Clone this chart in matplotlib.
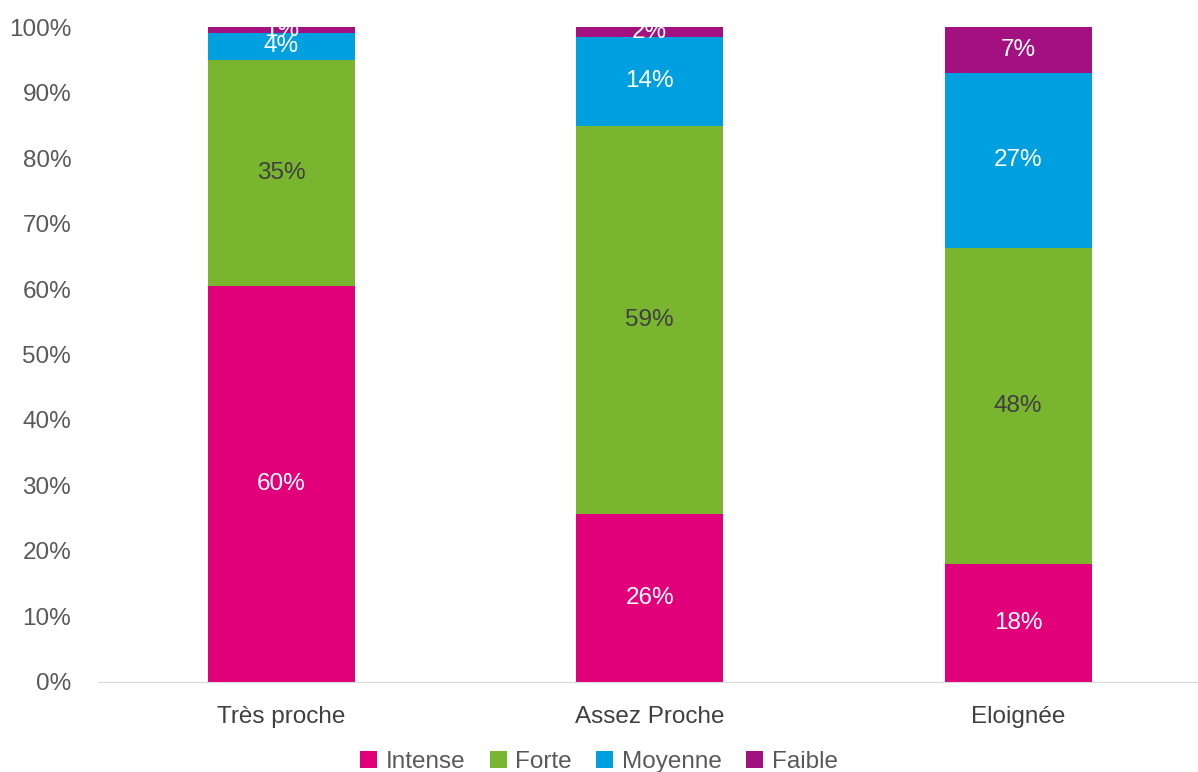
import numpy as np
import matplotlib.pyplot as plt
from matplotlib.ticker import PercentFormatter

plt.rcParams['font.family'] = ['Liberation Sans Narrow', 'Liberation Sans', 'DejaVu Sans']

categories = ["Très proche", "Assez Proche", "Eloignée"]
series_names = ["Intense", "Forte", "Moyenne", "Faible"]
intense = [60.4, 25.6, 18.0]
forte = [34.6, 59.3, 48.3]
moyenne = [4.1, 13.6, 26.7]
faible = [0.9, 1.5, 7.0]

colors = ["#E2007A", "#7AB530", "#009FDF", "#A2117F"]
label_colors = ["white", "#404040", "white", "white"]

fig = plt.figure(figsize=(11.98, 7.72), dpi=100)
ax = fig.add_axes([0.082, 0.1166, 0.918, 0.8484])

x = np.arange(len(categories))
bottom = np.zeros(len(categories))
for name, vals, col, lc in zip(series_names, [intense, forte, moyenne, faible],
                               colors, label_colors):
    vals = np.array(vals)
    bars = ax.bar(x, vals, width=0.4, bottom=bottom, color=col, label=name)
    for b, v, y0 in zip(bars, vals, bottom):
        ax.text(b.get_x() + b.get_width() / 2, y0 + v / 2, f"{v:.0f}%",
                ha="center", va="center", fontsize=17.5, color=lc)
    bottom += vals

ax.set_xlim(-0.497, 2.488)
ax.set_ylim(0, 100)
ax.set_yticks(np.arange(0, 101, 10))
ax.yaxis.set_major_formatter(PercentFormatter(decimals=0))
ax.set_xticks(x)
ax.set_xticklabels(categories)
ax.tick_params(axis="y", length=0, pad=19.5, labelsize=17.5, labelcolor="#595959")
ax.tick_params(axis="x", length=0, pad=17, labelsize=17.5, labelcolor="#404040")
for s in ["top", "right", "left"]:
    ax.spines[s].set_visible(False)
ax.spines["bottom"].set_color("#D9D9D9")

fig.legend(loc="lower center", ncol=4, bbox_to_anchor=(0.5, -0.03), frameon=False,
           fontsize=17.5, handlelength=0.7, handleheight=0.7, handletextpad=0.35,
           columnspacing=1.0, labelcolor="#595959")

fig.savefig("out.png", dpi=100)
